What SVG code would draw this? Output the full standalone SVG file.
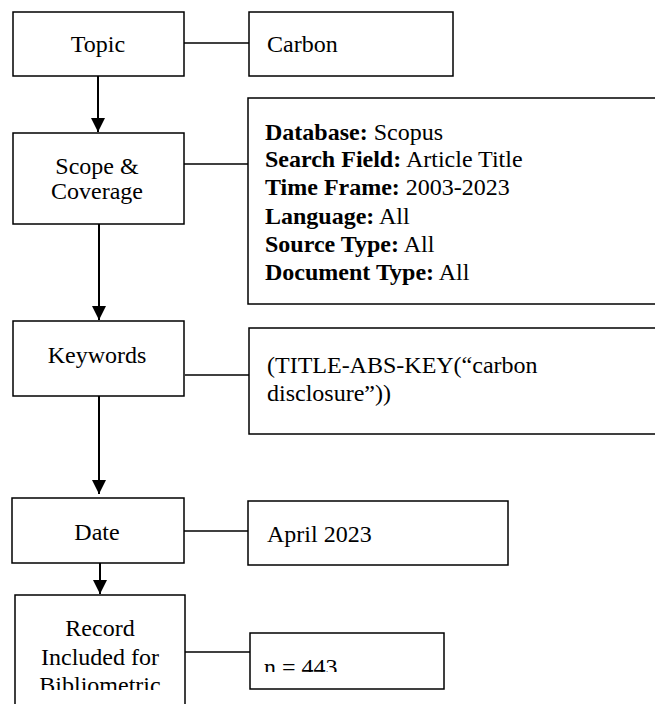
<svg xmlns="http://www.w3.org/2000/svg" width="655" height="704" viewBox="0 0 655 704">
<style>
.box{fill:#fff;stroke:#000;stroke-width:1.5}
.con{stroke:#000;stroke-width:1.5;fill:none}
.arr{stroke:#000;stroke-width:2;fill:none}
text{font-family:"Liberation Serif","Times New Roman",serif;font-size:24px;fill:#000}
.c{text-anchor:middle}
.b{font-weight:bold}
</style>
<defs>
<marker id="ah" viewBox="0 0 14 14" refX="14" refY="7" markerWidth="14" markerHeight="14" markerUnits="userSpaceOnUse" orient="auto"><path d="M0,0 L14,7 L0,14 Z" fill="#000"/></marker>
<clipPath id="clipN"><rect x="250" y="633" width="200" height="39"/></clipPath>
<clipPath id="clipR"><rect x="15" y="595" width="170" height="95"/></clipPath>
</defs>
<g id="connectors">
<line class="con" x1="184" y1="43" x2="249" y2="43"/>
<line class="con" x1="184" y1="164" x2="248" y2="164"/>
<line class="con" x1="185" y1="375" x2="249" y2="375"/>
<line class="con" x1="184" y1="531" x2="248" y2="531"/>
<line class="con" x1="185" y1="652" x2="250" y2="652"/>
<line class="arr" x1="98" y1="76" x2="98" y2="132" marker-end="url(#ah)"/>
<line class="arr" x1="99" y1="224" x2="99" y2="320" marker-end="url(#ah)"/>
<line class="arr" x1="99" y1="396" x2="99" y2="494" marker-end="url(#ah)"/>
<line class="arr" x1="100" y1="563" x2="100" y2="594" marker-end="url(#ah)"/>
</g>
<g id="topic"><rect class="box" x="13" y="12" width="171" height="64"/><text class="c" x="98" y="52">Topic</text></g>
<g id="carbon"><rect class="box" x="249" y="12" width="204" height="64"/><text x="267" y="52">Carbon</text></g>
<g id="scope"><rect class="box" x="13" y="133" width="171" height="91"/><text class="c" x="97" y="174">Scope &amp;</text><text class="c" x="97" y="199">Coverage</text></g>
<g id="details"><rect class="box" x="248" y="98" width="430" height="206"/>
<text x="265" y="140"><tspan class="b">Database:</tspan> Scopus</text>
<text x="265" y="167"><tspan class="b">Search Field:</tspan> Article  Title</text>
<text x="265" y="195"><tspan class="b">Time Frame:</tspan> 2003-2023</text>
<text x="265" y="224"><tspan class="b">Language:</tspan> All</text>
<text x="265" y="252"><tspan class="b">Source Type:</tspan> All</text>
<text x="265" y="280"><tspan class="b">Document Type:</tspan> All</text>
</g>
<g id="keywords"><rect class="box" x="13" y="321" width="171" height="75"/><text class="c" x="97" y="363">Keywords</text></g>
<g id="query"><rect class="box" x="249" y="328" width="430" height="106"/><text x="267" y="373">(TITLE-ABS-KEY(“carbon</text><text x="267" y="401">disclosure”))</text></g>
<g id="date"><rect class="box" x="12" y="498" width="172" height="65"/><text class="c" x="97" y="540">Date</text></g>
<g id="april"><rect class="box" x="248" y="501" width="260" height="64"/><text x="267" y="542">April 2023</text></g>
<g id="record"><rect class="box" x="15" y="595" width="170" height="130"/>
<g clip-path="url(#clipR)"><text class="c" x="100" y="636">Record</text><text class="c" x="100" y="665">Included for</text><text class="c" x="100" y="693">Bibliometric</text></g></g>
<g id="n"><rect class="box" x="250" y="633" width="194" height="56"/><g clip-path="url(#clipN)"><text x="264" y="675">n = 443</text></g></g>
</svg>
